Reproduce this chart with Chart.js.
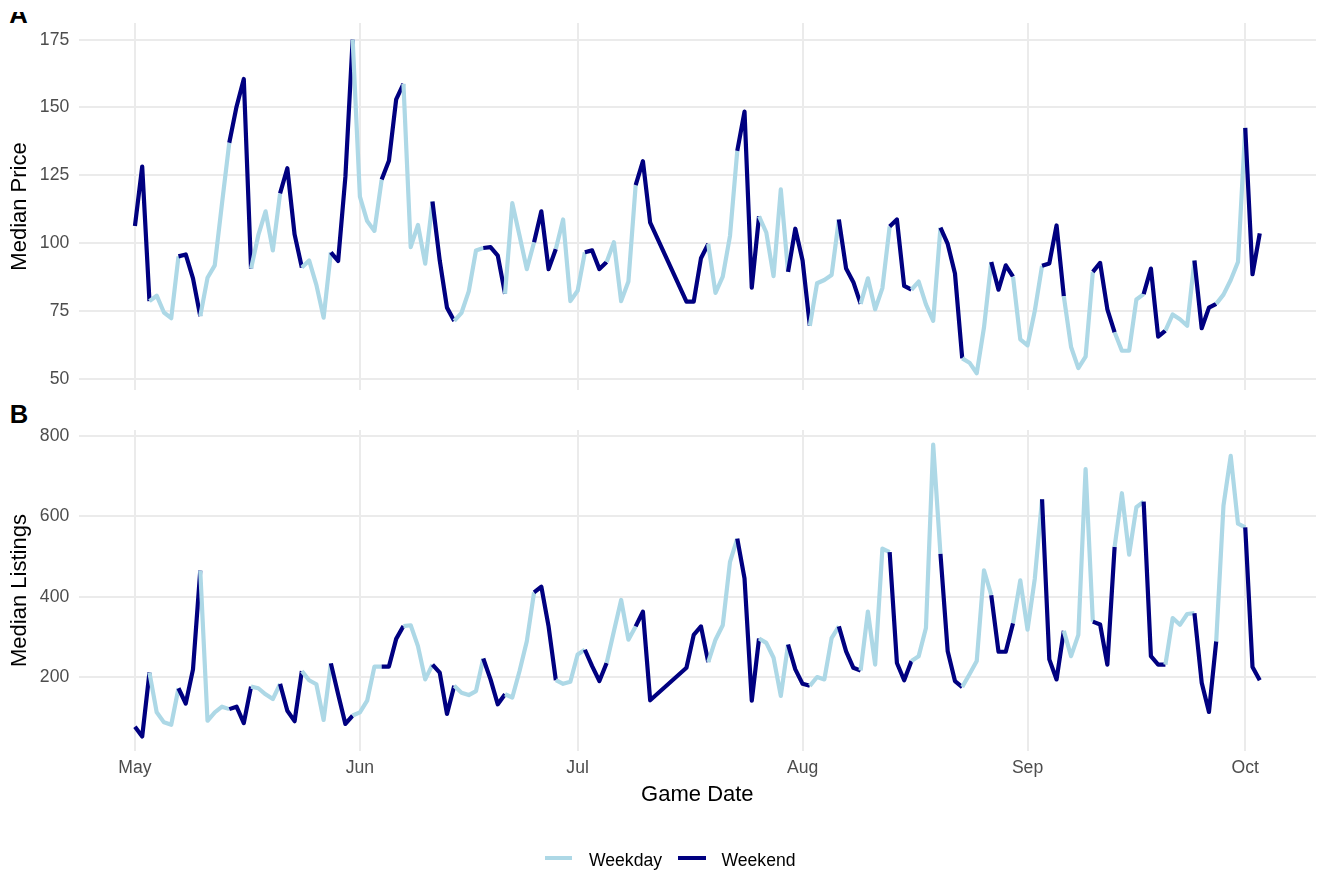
<!DOCTYPE html>
<html>
<head>
<meta charset="utf-8">
<script src="https://cdn.jsdelivr.net/npm/chart.js@4"></script>
<style>
  html, body { margin: 0; padding: 0; background: #fff; }
  body { width: 1317px; height: 872px; position: relative; overflow: hidden;
         font-family: "Liberation Sans", Arial, sans-serif; }
  canvas { position: absolute; left: 0; }
  .tag { position: absolute; font: bold 25.6px/30px "Liberation Sans", Arial, sans-serif; color: #000; }
  .clip { position: absolute; left: 0; top: 12px; width: 60px; height: 11px; overflow: hidden; }
  .key { position: absolute; height: 4px; }
  .ltext { position: absolute; font-size: 17.6px; line-height: 20px; color: #000; white-space: nowrap; }
</style>
</head>
<body>
<div class="clip"><div class="tag" style="left:9.3px; top:-13.2px;">A</div></div>
<div class="tag" style="left:9.8px; top:399.4px;">B</div>
<canvas id="priceChart" width="1317" height="410" style="top:0"></canvas>
<canvas id="listingChart" width="1317" height="462" style="top:410px"></canvas>

<div class="key" style="left:545px; width:27px; top:856.3px; background:#ADD8E6;"></div>
<div class="ltext" style="left:589px; top:850.2px;">Weekday</div>
<div class="key" style="left:678px; width:28px; top:856.3px; background:#000080;"></div>
<div class="ltext" style="left:721.5px; top:850.2px;">Weekend</div>

<script>
// Game dates of the 2021 season (no games Jul 12-15, All-Star break)
const gameDates = [
  "2021-05-01","2021-05-02","2021-05-03","2021-05-04","2021-05-05","2021-05-06","2021-05-07","2021-05-08","2021-05-09","2021-05-10",
  "2021-05-11","2021-05-12","2021-05-13","2021-05-14","2021-05-15","2021-05-16","2021-05-17","2021-05-18","2021-05-19","2021-05-20",
  "2021-05-21","2021-05-22","2021-05-23","2021-05-24","2021-05-25","2021-05-26","2021-05-27","2021-05-28","2021-05-29","2021-05-30","2021-05-31",
  "2021-06-01","2021-06-02","2021-06-03","2021-06-04","2021-06-05","2021-06-06","2021-06-07","2021-06-08","2021-06-09","2021-06-10",
  "2021-06-11","2021-06-12","2021-06-13","2021-06-14","2021-06-15","2021-06-16","2021-06-17","2021-06-18","2021-06-19","2021-06-20",
  "2021-06-21","2021-06-22","2021-06-23","2021-06-24","2021-06-25","2021-06-26","2021-06-27","2021-06-28","2021-06-29","2021-06-30",
  "2021-07-01","2021-07-02","2021-07-03","2021-07-04","2021-07-05","2021-07-06","2021-07-07","2021-07-08","2021-07-09","2021-07-10","2021-07-11",
  "2021-07-16","2021-07-17","2021-07-18","2021-07-19","2021-07-20","2021-07-21","2021-07-22","2021-07-23","2021-07-24","2021-07-25",
  "2021-07-26","2021-07-27","2021-07-28","2021-07-29","2021-07-30","2021-07-31",
  "2021-08-01","2021-08-02","2021-08-03","2021-08-04","2021-08-05","2021-08-06","2021-08-07","2021-08-08","2021-08-09","2021-08-10",
  "2021-08-11","2021-08-12","2021-08-13","2021-08-14","2021-08-15","2021-08-16","2021-08-17","2021-08-18","2021-08-19","2021-08-20",
  "2021-08-21","2021-08-22","2021-08-23","2021-08-24","2021-08-25","2021-08-26","2021-08-27","2021-08-28","2021-08-29","2021-08-30","2021-08-31",
  "2021-09-01","2021-09-02","2021-09-03","2021-09-04","2021-09-05","2021-09-06","2021-09-07","2021-09-08","2021-09-09","2021-09-10",
  "2021-09-11","2021-09-12","2021-09-13","2021-09-14","2021-09-15","2021-09-16","2021-09-17","2021-09-18","2021-09-19","2021-09-20",
  "2021-09-21","2021-09-22","2021-09-23","2021-09-24","2021-09-25","2021-09-26","2021-09-27","2021-09-28","2021-09-29","2021-09-30",
  "2021-10-01","2021-10-02","2021-10-03"
];

// Median ticket price per game date
const medianPrice = [
  106.3,128.2,78.6,80.6,74.4,72.3,95.1,95.8,87.0,73.1,
  87.2,91.8,114.7,137.0,150.3,160.5,90.6,102.9,111.7,97.3,
  118.3,127.6,103.2,91.0,93.6,84.6,72.5,96.6,93.4,124.4,175.0,
  117.1,108.1,104.5,123.4,130.4,153.0,158.7,98.5,106.7,92.4,
  115.3,93.6,76.2,71.3,74.3,82.2,97.3,98.2,98.5,95.4,
  81.3,114.7,102.7,90.4,100.3,111.7,90.4,97.8,108.7,78.6,
  82.4,96.6,97.3,90.4,93.0,100.3,78.6,85.8,121.4,130.2,107.5,
  78.4,78.4,94.4,99.7,81.6,87.6,102.7,134.0,148.5,83.6,
  109.9,103.9,87.8,119.8,89.4,105.3,
  93.6,69.5,85.2,86.4,88.2,108.7,90.6,85.6,77.6,87.0,
  75.6,83.4,106.1,108.7,84.2,82.8,85.8,77.4,71.3,105.7,
  99.7,88.8,57.5,55.9,52.0,68.9,93.0,82.8,91.8,87.6,64.5,
  62.3,75.0,91.6,92.5,106.5,80.4,61.7,53.9,58.1,89.4,
  92.7,75.6,67.1,60.3,60.3,79.2,81.2,90.6,65.5,67.7,
  73.7,71.9,69.5,93.6,68.6,76.2,77.6,81.0,86.4,93.0,
  142.5,88.5,103.6
];

// Median number of listings per game date
const medianListings = [
  76,52,211,112,87,81,172,134,219,465,
  91,112,126,120,126,85,176,172,157,145,
  183,116,90,215,192,182,93,234,157,83,104,
  112,141,226,226,226,295,327,329,277,194,
  231,211,108,178,161,155,165,246,194,132,
  157,149,215,289,411,425,326,192,183,188,
  256,268,227,190,235,314,392,293,326,363,142,
  223,305,326,237,293,329,487,545,446,141,
  296,285,248,153,281,219,
  183,178,200,194,297,326,264,223,216,363,
  231,520,511,235,192,240,252,322,779,507,
  264,190,175,207,240,466,404,263,263,334,441,
  318,445,643,244,194,315,252,305,718,338,
  331,231,524,658,505,623,637,252,231,231,
  347,330,357,359,186,113,289,627,751,582,
  573,225,192
];

// Month breaks on the date axis
const monthLabels = ["May", "Jun", "Jul", "Aug", "Sep", "Oct"];
const monthStarts = ["2021-05-01", "2021-06-01", "2021-07-01", "2021-08-01", "2021-09-01", "2021-10-01"];

const priceTicks = [50, 75, 100, 125, 150, 175];
const listingTicks = [200, 400, 600, 800];

const COLORS = { weekday: "#ADD8E6", weekend: "#000080" };
const FONT = "'Liberation Sans', Arial, sans-serif";
const GRID = "#EBEBEB";

const DAY_MS = 86400000;
const origin = Date.parse(monthStarts[0]);
const toDay = d => (Date.parse(d) - origin) / DAY_MS;
const dayNums = gameDates.map(toDay);
const monthDays = monthStarts.map(toDay);
// Friday, Saturday and Sunday count as weekend
const isWeekend = gameDates.map(d => [5, 6, 0].includes(new Date(d + "T00:00:00Z").getUTCDay()));

// 5% padding on both ends of each range
function padded(values) {
  const lo = Math.min(...values), hi = Math.max(...values);
  const pad = (hi - lo) * 0.05;
  return { min: lo - pad, max: hi + pad };
}
const xRange = padded(dayNums);

function makeChart(canvasId, values, yTicks, yTitle, showX, layoutPad) {
  const yRange = padded(values);
  return new Chart(document.getElementById(canvasId), {
    type: "line",
    data: {
      datasets: [{
        data: values.map((v, i) => ({ x: dayNums[i], y: v })),
        borderWidth: 4.2,
        borderColor: COLORS.weekday,
        borderJoinStyle: "round",
        borderCapStyle: "butt",
        pointRadius: 0,
        tension: 0,
        segment: {
          borderColor: ctx => isWeekend[ctx.p0DataIndex] ? COLORS.weekend : COLORS.weekday
        }
      }]
    },
    options: {
      responsive: false,
      animation: false,
      events: [],
      layout: { padding: layoutPad },
      plugins: { legend: { display: false }, tooltip: { enabled: false } },
      scales: {
        x: {
          type: "linear",
          min: xRange.min,
          max: xRange.max,
          afterBuildTicks: s => { s.ticks = monthDays.map(v => ({ value: v })); },
          afterFit: s => { s.height = showX ? 60 : 0; },
          grid: { color: GRID, lineWidth: 2, drawTicks: false },
          border: { display: false },
          ticks: {
            display: showX,
            autoSkip: false,
            maxRotation: 0,
            padding: 6.4,
            color: "#4D4D4D",
            font: { family: FONT, size: 17.6 },
            callback: (v, i) => monthLabels[i]
          },
          title: {
            display: showX,
            text: "Game Date",
            color: "#000",
            font: { family: FONT, size: 22 },
            padding: { top: 0, bottom: 2.8 }
          }
        },
        y: {
          min: yRange.min,
          max: yRange.max,
          afterBuildTicks: s => { s.ticks = yTicks.map(v => ({ value: v })); },
          afterFit: s => { s.width = 78.7; },
          grid: { color: GRID, lineWidth: 2, drawTicks: false },
          border: { display: false },
          ticks: {
            padding: 9.5,
            color: "#4D4D4D",
            font: { family: FONT, size: 17.6 }
          },
          title: {
            display: true,
            text: yTitle,
            color: "#000",
            font: { family: FONT, size: 22 },
            padding: { top: 6.8, bottom: 0 }
          }
        }
      }
    }
  });
}

makeChart("priceChart", medianPrice, priceTicks, "Median Price", false,
  { top: 23, bottom: 13, left: 0, right: 1 });
makeChart("listingChart", medianListings, listingTicks, "Median Listings", true,
  { top: 17, bottom: 61, left: 0, right: 1 });
</script>
</body>
</html>
